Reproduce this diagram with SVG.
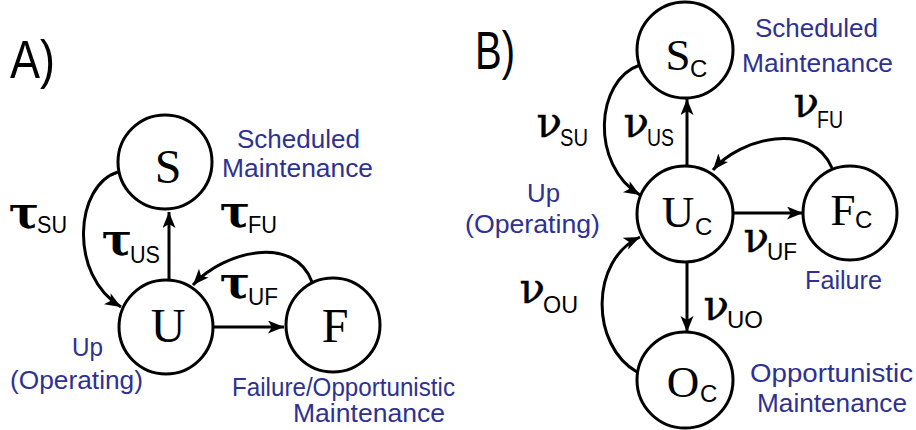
<svg xmlns="http://www.w3.org/2000/svg" width="916" height="430" viewBox="0 0 916 430">
<defs>
<marker id="ah" markerUnits="userSpaceOnUse" markerWidth="18" markerHeight="14" refX="16" refY="6.5" orient="auto">
<path d="M0,0 L16,6.5 L0,13 L4,6.5 z" fill="#000"/>
</marker>
<style>
.node{fill:#fff;stroke:#000;stroke-width:3}
.edge{fill:none;stroke:#000;stroke-width:3;marker-end:url(#ah)}
.big{font-family:"Liberation Serif",serif;font-size:48px;fill:#000}
.bigb{font-family:"Liberation Serif",serif;font-size:45px;fill:#000}
.sub{font-family:"Liberation Sans",sans-serif;font-size:24px;fill:#000}
.tau{font-family:"DejaVu Serif",serif;font-size:45px;font-weight:bold;fill:#000;text-anchor:end}
.nu{font-family:"DejaVu Serif",serif;font-size:42px;fill:#000;stroke:#000;stroke-width:0.4;text-anchor:end}
.lbl{font-family:"Liberation Sans",sans-serif;font-size:25px;fill:#2e3192}
.panel{font-family:"Liberation Sans",sans-serif;font-size:54px;fill:#000}
</style>
</defs>
<rect width="916" height="430" fill="#fff"/>

<text class="panel" x="10" y="78" textLength="45" lengthAdjust="spacingAndGlyphs">A)</text>
<text class="panel" x="475" y="69" textLength="40" lengthAdjust="spacingAndGlyphs">B)</text>

<g id="connectors">
<line class="edge" x1="169" y1="280" x2="169" y2="212"/>
<line class="edge" x1="213" y1="327" x2="284" y2="327"/>
<path class="edge" d="M118,172 C75,185 68,275 121,307"/>
<path class="edge" d="M312,282 C295,235 225,250 193,285"/>
<line class="edge" x1="687" y1="166" x2="687" y2="99"/>
<line class="edge" x1="733" y1="213" x2="803" y2="213"/>
<line class="edge" x1="687" y1="262" x2="687" y2="332"/>
<path class="edge" d="M640,65 C595,80 590,165 640,195"/>
<path class="edge" d="M637,372 C590,345 590,260 640,237"/>
<path class="edge" d="M832,168 C812,120 740,138 713,170"/>
</g>

<g id="nodeS">
<circle class="node" cx="165" cy="162" r="47"/>
<text class="big" x="168" y="183" text-anchor="middle">S</text>
</g>
<g id="nodeU">
<circle class="node" cx="166" cy="327" r="47"/>
<text class="big" x="168" y="342" text-anchor="middle">U</text>
</g>
<g id="nodeF">
<circle class="node" cx="333" cy="325" r="47"/>
<text class="big" x="335" y="342" text-anchor="middle">F</text>
</g>

<g id="nodeSc">
<circle class="node" cx="685" cy="50" r="48"/>
<text class="bigb" x="678" y="70" text-anchor="middle">S</text>
<text class="sub" x="690" y="77">C</text>
</g>
<g id="nodeUc">
<circle class="node" cx="685" cy="214" r="48"/>
<text class="bigb" x="678" y="227" text-anchor="middle">U</text>
<text class="sub" x="695" y="235">C</text>
</g>
<g id="nodeFc">
<circle class="node" cx="850" cy="213" r="47"/>
<text class="bigb" x="843" y="225" text-anchor="middle">F</text>
<text class="sub" x="855" y="228">C</text>
</g>
<g id="nodeOc">
<circle class="node" cx="685" cy="380" r="48"/>
<text class="bigb" x="683" y="397" text-anchor="middle">O</text>
<text class="sub" x="700" y="402">C</text>
</g>

<g id="ratesA">
<text class="tau" x="39" y="228">τ</text><text class="sub" x="37" y="233" textLength="30" lengthAdjust="spacingAndGlyphs">SU</text>
<text class="tau" x="132" y="255">τ</text><text class="sub" x="130" y="263" textLength="30" lengthAdjust="spacingAndGlyphs">US</text>
<text class="tau" x="250" y="227">τ</text><text class="sub" x="248" y="233" textLength="29" lengthAdjust="spacingAndGlyphs">FU</text>
<text class="tau" x="250" y="298">τ</text><text class="sub" x="248" y="305" textLength="30" lengthAdjust="spacingAndGlyphs">UF</text>
</g>
<g id="ratesB">
<text class="nu" x="562" y="137">ν</text><text class="sub" x="560" y="146" textLength="28" lengthAdjust="spacingAndGlyphs">SU</text>
<text class="nu" x="649" y="137">ν</text><text class="sub" x="647" y="146" textLength="27" lengthAdjust="spacingAndGlyphs">US</text>
<text class="nu" x="819" y="117">ν</text><text class="sub" x="817" y="128" textLength="26" lengthAdjust="spacingAndGlyphs">FU</text>
<text class="nu" x="769" y="252">ν</text><text class="sub" x="767" y="260" textLength="30" lengthAdjust="spacingAndGlyphs">UF</text>
<text class="nu" x="545" y="303">ν</text><text class="sub" x="543" y="313" textLength="35" lengthAdjust="spacingAndGlyphs">OU</text>
<text class="nu" x="729" y="320">ν</text><text class="sub" x="727" y="328" textLength="36" lengthAdjust="spacingAndGlyphs">UO</text>
</g>

<g id="labelsA">
<text class="lbl" x="237" y="148" textLength="123" lengthAdjust="spacingAndGlyphs">Scheduled</text>
<text class="lbl" x="222" y="177" textLength="151" lengthAdjust="spacingAndGlyphs">Maintenance</text>
<text class="lbl" x="72" y="356" textLength="31" lengthAdjust="spacingAndGlyphs">Up</text>
<text class="lbl" x="10" y="389" textLength="133" lengthAdjust="spacingAndGlyphs">(Operating)</text>
<text class="lbl" x="232" y="396" textLength="223" lengthAdjust="spacingAndGlyphs">Failure/Opportunistic</text>
<text class="lbl" x="293" y="422" textLength="152" lengthAdjust="spacingAndGlyphs">Maintenance</text>
</g>
<g id="labelsB">
<text class="lbl" x="755" y="37" textLength="123" lengthAdjust="spacingAndGlyphs">Scheduled</text>
<text class="lbl" x="742" y="72" textLength="151" lengthAdjust="spacingAndGlyphs">Maintenance</text>
<text class="lbl" x="527" y="202" textLength="33" lengthAdjust="spacingAndGlyphs">Up</text>
<text class="lbl" x="465" y="233" textLength="135" lengthAdjust="spacingAndGlyphs">(Operating)</text>
<text class="lbl" x="805" y="289" textLength="77" lengthAdjust="spacingAndGlyphs">Failure</text>
<text class="lbl" x="750" y="382" textLength="163" lengthAdjust="spacingAndGlyphs">Opportunistic</text>
<text class="lbl" x="757" y="412" textLength="150" lengthAdjust="spacingAndGlyphs">Maintenance</text>
</g>
</svg>
